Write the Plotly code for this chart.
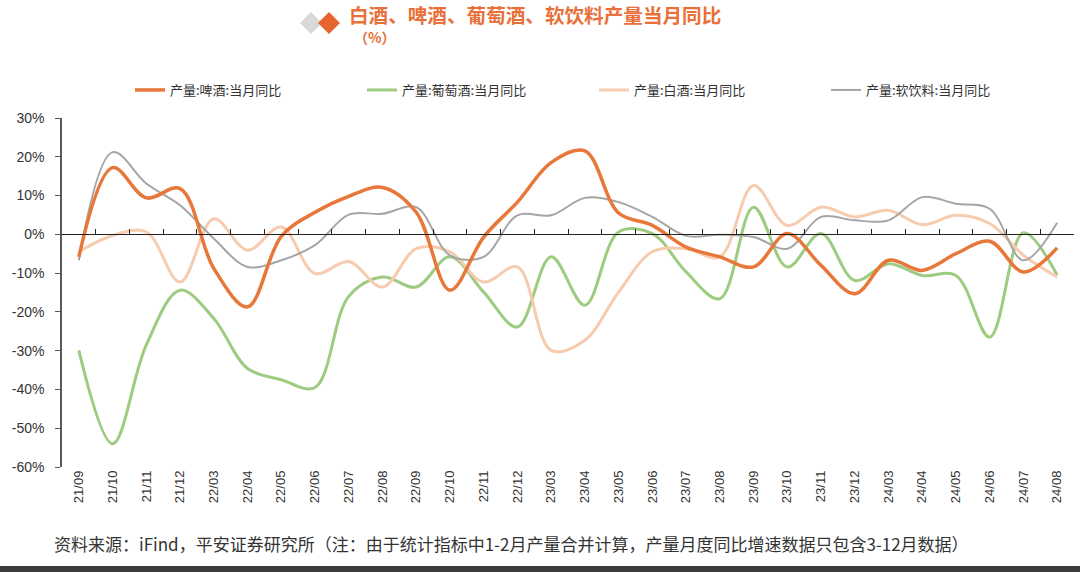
import plotly.graph_objects as go

months = ["21/09", "21/10", "21/11", "21/12", "22/03", "22/04", "22/05", "22/06", "22/07", "22/08",
          "22/09", "22/10", "22/11", "22/12", "23/03", "23/04", "23/05", "23/06", "23/07", "23/08",
          "23/09", "23/10", "23/11", "23/12", "24/03", "24/04", "24/05", "24/06", "24/07", "24/08"]

beer = [-5.8, 17.2, 9.4, 11.8, -8.8, -18.7, -0.5, 5.7, 9.8, 12.1,
        5.7, -14.4, -0.7, 8.3, 18.5, 21.5, 5.5, 2.3, -3.3, -5.8,
        -8.4, 0.2, -8.0, -15.3, -6.7, -9.3, -5.0, -1.8, -9.7, -3.5]
wine = [-29.9, -54.0, -28.5, -14.4, -21.7, -34.6, -37.5, -39.5, -16.0, -11.0,
        -13.6, -5.8, -14.9, -23.9, -5.8, -18.3, 0.6, 0.2, -9.7, -16.6,
        7.0, -8.4, 0.2, -11.9, -7.6, -10.6, -10.6, -26.5, 0.4, -10.5]
baijiu = [-4.5, -0.3, 0.6, -12.3, 4.0, -4.1, 1.9, -10.1, -7.0, -13.6,
          -3.7, -4.5, -12.3, -8.4, -29.9, -27.3, -14.9, -4.5, -3.7, -5.8,
          12.6, 2.3, 7.0, 4.5, 6.2, 2.5, 4.9, 2.8, -5.4, -11.0]
soft = [-6.7, 21.2, 13.1, 7.5, -1.1, -8.4, -6.7, -2.8, 5.1, 5.3,
        7.0, -5.4, -5.8, 4.9, 4.9, 9.4, 8.3, 4.5, -0.4, -0.1,
        -0.7, -3.7, 4.5, 3.6, 3.6, 9.6, 7.9, 6.6, -6.7, 3.0]

series_names = ["产量:啤酒:当月同比", "产量:葡萄酒:当月同比", "产量:白酒:当月同比", "产量:软饮料:当月同比"]
y_ticks = [30, 20, 10, 0, -10, -20, -30, -40, -50, -60]

title_text = "白酒、啤酒、葡萄酒、软饮料产量当月同比"
unit_text = "（%）"
source_text = "资料来源：iFind，平安证券研究所（注：由于统计指标中1-2月产量合并计算，产量月度同比增速数据只包含3-12月数据）"

W, H = 1080, 572
L, R, T, B = 62, 1074, 118, 467


def px(x):
    return (x - L) / (R - L)


def py(y):
    return (B - y) / (B - T)


fig = go.Figure()
styles = [
    (beer, series_names[0], "#E8773A", 3.5),
    (wine, series_names[1], "#9DCB80", 3.0),
    (baijiu, series_names[2], "#F7CBAE", 3.0),
    (soft, series_names[3], "#A5A5A5", 2.0),
]
order = [1, 2, 3, 0]
for k in order:
    vals, name, color, w = styles[k]
    fig.add_trace(go.Scatter(
        x=months, y=vals, name=name, mode="lines",
        line=dict(color=color, width=w, shape="spline", smoothing=1.0),
        legendrank=k + 1,
    ))

zero_frac = (0 - y_ticks[-1]) / (y_ticks[0] - y_ticks[-1])

fig.update_layout(
    width=W, height=H,
    margin=dict(l=L, r=W - R, t=T, b=H - B, autoexpand=False),
    paper_bgcolor="white", plot_bgcolor="white",
    font=dict(family="Liberation Sans, Arial, sans-serif", color="#333333"),
    showlegend=True,
    legend=dict(
        orientation="h", x=px(130), xanchor="left", y=py(90), yanchor="middle",
        entrywidth=187, entrywidthmode="pixels",
        font=dict(family="Noto Sans CJK SC", size=13, color="#333333"),
        bgcolor="rgba(0,0,0,0)", itemwidth=30,
    ),
    xaxis=dict(
        type="category", range=[-0.5, len(months) - 0.5], automargin=False,
        tickangle=-90, tickfont=dict(size=13, color="#333333"),
        showgrid=False, showline=False, ticks="", ticklen=0,
    ),
    xaxis2=dict(
        overlaying="x", anchor="free", position=zero_frac, automargin=False,
        range=[-0.5, len(months) - 0.5], tickvals=[i + 0.5 for i in range(len(months) - 1)],
        showticklabels=False, ticks="inside", ticklen=5, tickcolor="#222222", tickwidth=1,
        showline=True, linecolor="#222222", linewidth=1.3, showgrid=False, side="bottom",
    ),
    yaxis=dict(
        range=[y_ticks[-1], y_ticks[0]], tickvals=y_ticks, automargin=False,
        ticktext=[f"{v}%" for v in y_ticks],
        tickfont=dict(size=14, color="#333333"), ticklabelstandoff=8,
        showgrid=False, zeroline=False,
        showline=True, linecolor="#595959", linewidth=1.5,
        ticks="outside", ticklen=5, tickcolor="#595959",
    ),
)

# invisible trace bound to xaxis2 so the zero axis renders
fig.add_trace(go.Scatter(x=[-0.5, len(months) - 0.5], y=[None, None], xaxis="x2", showlegend=False,
                         hoverinfo="skip"))

fig.add_annotation(
    text=title_text, xref="paper", yref="paper", x=px(347), y=py(15),
    xanchor="left", yanchor="middle", showarrow=False,
    font=dict(family="Noto Sans CJK SC", size=19.6, color="#E8703A", weight="bold"),
)
fig.add_annotation(
    text=unit_text, xref="paper", yref="paper", x=px(352), y=py(37),
    xanchor="left", yanchor="middle", showarrow=False,
    font=dict(family="Noto Sans CJK SC", size=14, color="#E8703A", weight="bold"),
)
fig.add_annotation(
    text=source_text, xref="paper", yref="paper", x=px(52), y=py(543),
    xanchor="left", yanchor="middle", showarrow=False,
    font=dict(family="Noto Sans CJK SC", size=17, color="#333333"),
)


def diamond(cx, cy, r, color):
    fig.add_shape(
        type="path", xref="paper", yref="paper",
        path=f"M {px(cx - r)} {py(cy)} L {px(cx)} {py(cy - r)} L {px(cx + r)} {py(cy)} L {px(cx)} {py(cy + r)} Z",
        fillcolor=color, line=dict(width=0), layer="above",
    )


diamond(311, 23, 11, "#D9D9D9")
diamond(329, 23, 11, "#E8642E")

fig.add_shape(type="rect", xref="paper", yref="paper", x0=px(0), x1=px(W), y0=py(572), y1=py(566),
              fillcolor="#3C3C3C", line=dict(width=0))

fig.write_html("out.html", config={"displayModeBar": False},
               post_script="document.body.style.margin='0';document.body.style.overflow='hidden';")
